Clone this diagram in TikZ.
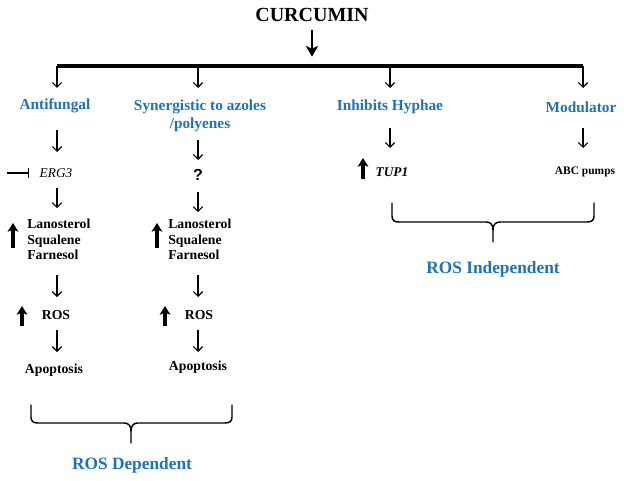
\documentclass[tikz,border=0pt]{standalone}
\usepackage{fontspec}
\setmainfont{Liberation Serif}
\setsansfont{Liberation Sans}
\usetikzlibrary{arrows.meta}
\definecolor{rosblue}{RGB}{31,114,183}
\tikzset{
  flow/.style={line width=0.8pt, -{Straight Barb[length=3.5pt,width=7pt]}},
  uparr/.style={line width=2.4pt, -{Stealth[length=6.5pt,width=8pt,inset=1.5pt]}},
  bluelbl/.style={inner sep=0pt, text=rosblue, align=center, font=\fontsize{11.5}{13.5}\selectfont\bfseries},
  blk/.style={inner sep=0pt, font=\fontsize{10.3}{11.6}\selectfont\bfseries},
  bracepath/.style={line width=1.1pt, line join=round, line cap=round},
}
\begin{document}
\begin{tikzpicture}[x=0.75pt,y=0.75pt,yscale=-1,xscale=1]
\useasboundingbox (0,0) rectangle (624,481);

% Text Node
\node[inner sep=0pt, font=\fontsize{15}{18}\selectfont\bfseries] (curc) at (312,15) {CURCUMIN};

%Straight Lines: main bar
\coordinate (b1) at (57,66);
\coordinate (b2) at (198,66);
\coordinate (b3) at (390,66);
\coordinate (b4) at (583,66);
\draw[line width=3pt] (b1) -- (b4);
\draw[line width=2.2pt, -{Stealth[length=8pt,width=9pt,inset=2pt]}, shorten <=11.25pt, shorten >=7pt] (curc.center) -- (curc.center |- b1);

% Text Node
\node[bluelbl] (anti) at (55,106) {Antifungal};
% Text Node
\node[bluelbl] (syn) at (200,116) {Synergistic to azoles\\/polyenes};
% Text Node
\node[bluelbl] (hyph) at (390,107) {Inhibits Hyphae};
% Text Node
\node[bluelbl] (modu) at (581,107) {Modulator};

%Straight Lines: drops
\draw[flow, shorten >=13.5pt] (b1) -- (b1 |- anti);
\draw[flow, shorten >=21pt] (b2) -- (b2 |- syn);
\draw[flow, shorten >=14.25pt] (b3) -- (b3 |- hyph);
\draw[flow, shorten >=14.25pt] (b4) -- (b4 |- modu);

% Text Node
\node[inner sep=0pt, font=\fontsize{10}{12}\selectfont\itshape] (erg3) at (56,173) {ERG3};
\node[blk, align=left, anchor=west] (lan1) at (27,239.5) {Lanosterol\\Squalene\\Farnesol};
\node[blk] (ros1) at (56,315) {ROS};
\node[blk] (apo1) at (54,370) {Apoptosis};

% Text Node
\node[inner sep=0pt, font=\sffamily\bfseries\fontsize{12}{14}\selectfont] (qm) at (198,175) {?};
\node[blk, align=left, anchor=west] (lan2) at (168,239.5) {Lanosterol\\Squalene\\Farnesol};
\node[blk] (ros2) at (199,315) {ROS};
\node[blk] (apo2) at (198,367) {Apoptosis};

% Text Node
\node[inner sep=0pt, font=\fontsize{10}{12}\selectfont\bfseries\itshape] (tup) at (392,172) {TUP1};
\node[inner sep=0pt, font=\fontsize{8.6}{10}\selectfont\bfseries] (abc) at (585,172) {ABC pumps};

%Straight Lines: column 1
\draw[flow, shorten <=18pt, shorten >=15.75pt] (anti -| b1) -- (erg3 -| b1);
\draw[flow, shorten <=11.25pt, shorten >=23.6pt] (erg3 -| b1) -- (lan1 -| b1);
\draw[flow, shorten <=26.6pt, shorten >=13.5pt] (lan1 -| b1) -- (ros1 -| b1);
\draw[flow, shorten <=11.25pt, shorten >=13.5pt] (ros1 -| b1) -- (apo1 -| b1);
%Straight Lines: column 2
\draw[flow, shorten <=18pt, shorten >=11.25pt] (syn -| b2) -- (qm -| b2);
\draw[flow, shorten <=12.75pt, shorten >=20.6pt] (qm -| b2) -- (lan2 -| b2);
\draw[flow, shorten <=26.6pt, shorten >=13.5pt] (lan2 -| b2) -- (ros2 -| b2);
\draw[flow, shorten <=11.25pt, shorten >=11.25pt] (ros2 -| b2) -- (apo2 -| b2);
%Straight Lines: columns 3 and 4
\draw[flow, shorten <=15.75pt, shorten >=18pt] (hyph -| b3) -- (tup -| b3);
\draw[flow, shorten <=15.75pt, shorten >=18pt] (modu -| b4) -- (abc -| b4);

%Inhibition
\coordinate (inh) at (7,173);
\draw[line width=0.9pt, -{Bar[width=7pt]}, shorten >=7.5pt] (inh) -- (erg3);

%Up arrows
\draw[uparr] (13,248) -- (13,223);
\draw[uparr] (157,248) -- (157,223);
\draw[uparr] (22,326) -- (22,306);
\draw[uparr] (165,326) -- (165,306);
\draw[uparr] (363,179) -- (363,158);

%Shape: Braces
\draw[bracepath] (31,405) -- (31,417) .. controls (31,421) and (33,423) .. (38,423) -- (124,423)
  .. controls (128,423) and (131,425) .. (131,431) -- (131,443);
\draw[bracepath] (131,431) .. controls (131,425) and (134,423) .. (138,423) -- (225,423)
  .. controls (230,423) and (232,421) .. (232,417) -- (232,405);
\draw[bracepath] (392,203) -- (392,216) .. controls (392,220) and (394,222) .. (399,222) -- (486,222)
  .. controls (490,222) and (493,224) .. (493,230) -- (493,242);
\draw[bracepath] (493,230) .. controls (493,224) and (496,222) .. (500,222) -- (587,222)
  .. controls (592,222) and (594,220) .. (594,216) -- (594,203);

% Text Node
\node[inner sep=0pt, text=rosblue, font=\fontsize{13}{15}\selectfont\bfseries] (dep) at (132,465) {ROS Dependent};
\node[inner sep=0pt, text=rosblue, font=\fontsize{13}{15}\selectfont\bfseries] (indep) at (493,269) {ROS Independent};
\end{tikzpicture}
\end{document}
